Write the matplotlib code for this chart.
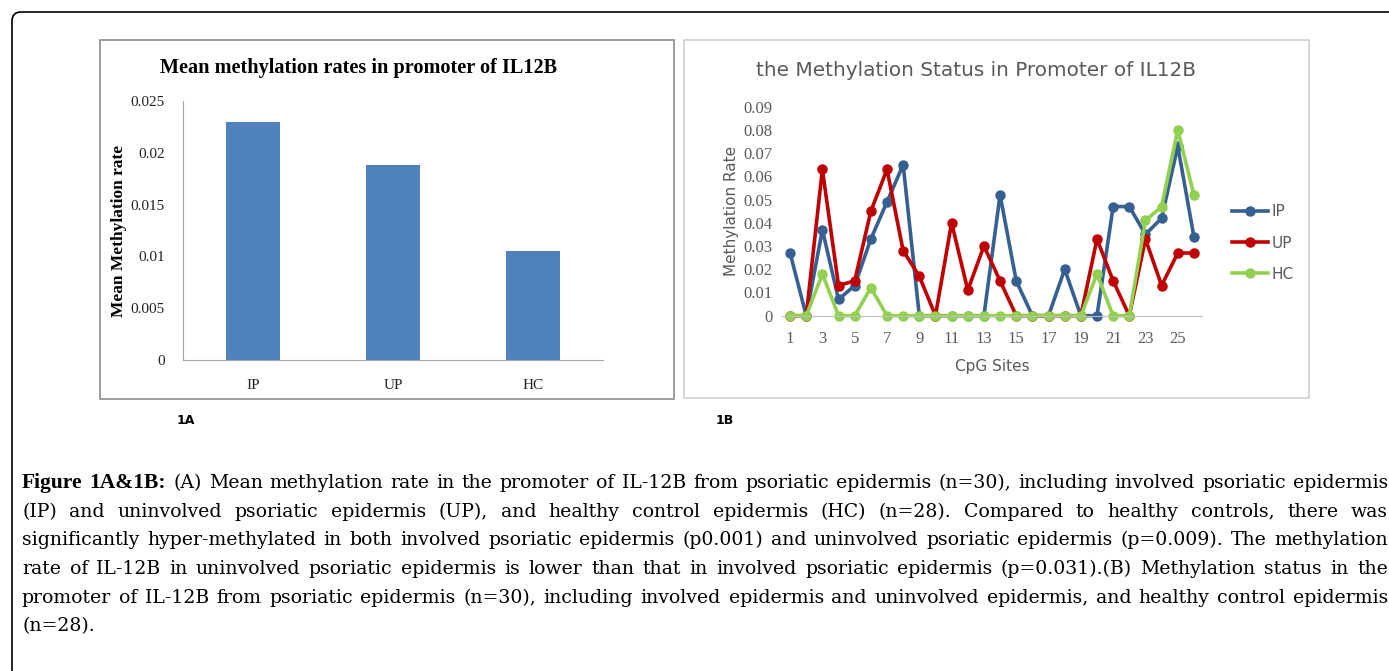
import matplotlib
matplotlib.use('Agg')
import matplotlib.pyplot as plt
from matplotlib.patches import Rectangle, FancyBboxPatch

W, H = 1389, 671

groups = ['IP', 'UP', 'HC']
mean_rates = [0.0230, 0.0188, 0.0105]

sites = list(range(1, 27))
ip_rates = [0.027, 0, 0.037, 0.007, 0.013, 0.033, 0.049, 0.065, 0, 0, 0, 0, 0,
            0.052, 0.015, 0, 0, 0.020, 0, 0, 0.047, 0.047, 0.035, 0.042, 0.073, 0.034]
up_rates = [0, 0, 0.063, 0.013, 0.015, 0.045, 0.063, 0.028, 0.017, 0, 0.040, 0.011, 0.030,
            0.015, 0, 0, 0, 0, 0, 0.033, 0.015, 0, 0.033, 0.013, 0.027, 0.027]
hc_rates = [0, 0, 0.018, 0, 0, 0.012, 0, 0, 0, 0, 0, 0, 0,
            0, 0, 0, 0, 0, 0, 0.018, 0, 0, 0.041, 0.047, 0.080, 0.052]

caption_lines = [
  "Figure 1A&1B: (A) Mean methylation rate in the promoter of IL-12B from psoriatic epidermis (n=30), including involved psoriatic epidermis",
  "(IP) and uninvolved psoriatic epidermis (UP), and healthy control epidermis (HC) (n=28). Compared to healthy controls, there was",
  "significantly hyper-methylated in both involved psoriatic epidermis (p0.001) and uninvolved psoriatic epidermis (p=0.009). The methylation",
  "rate of IL-12B in uninvolved psoriatic epidermis is lower than that in involved psoriatic epidermis (p=0.031).(B) Methylation status in the",
  "promoter of IL-12B from psoriatic epidermis (n=30), including involved epidermis and uninvolved epidermis, and healthy control epidermis",
  "(n=28).",
]

GRAY = '#595959'


def fx(x):
  return x / W


def fy(y):
  return 1 - y / H


def axes_box(left, top, right, bottom):
  return [fx(left), fy(bottom), (right - left) / W, (bottom - top) / H]


fig = plt.figure(figsize=(W / 100, H / 100), dpi=100)

# outer rounded frame
fig.patches.append(FancyBboxPatch((12, -30), 1420, H - 12 + 30, transform=None,
                                  boxstyle='round,pad=0,rounding_size=9',
                                  fill=False, edgecolor='black', linewidth=1.2))
# panel frames
fig.patches.append(Rectangle((fx(100), fy(399)), 574 / W, 359 / H, transform=fig.transFigure,
                             fill=False, edgecolor='#8c8c8c', linewidth=1.2))
fig.patches.append(Rectangle((fx(684), fy(398)), 625 / W, 358 / H, transform=fig.transFigure,
                             fill=False, edgecolor='#d0d0d0', linewidth=1.2))

# --- 1A bar chart ---
ax1 = fig.add_axes(axes_box(183, 101, 603, 360))
ax1.bar(range(len(groups)), mean_rates, width=0.39, color='#4f81bd')
ax1.set_xlim(-0.5, len(groups) - 0.5)
ax1.set_ylim(0, 0.025)
ax1.set_yticks([0, 0.005, 0.01, 0.015, 0.02, 0.025])
ax1.set_yticklabels(['0', '0.005', '0.01', '0.015', '0.02', '0.025'])
ax1.set_xticks(range(len(groups)))
ax1.set_xticklabels(groups)
ax1.tick_params(length=0, labelsize=11, pad=14, labelcolor='#222222')
ax1.tick_params(axis='y', pad=13)
for lab in ax1.get_xticklabels() + ax1.get_yticklabels():
  lab.set_family('Liberation Serif')
for s in ['top', 'right']:
  ax1.spines[s].set_visible(False)
for s in ['left', 'bottom']:
  ax1.spines[s].set_color('#a6a6a6')
ax1.set_ylabel('Mean Methylation rate', family='Liberation Serif', fontweight='bold',
               fontsize=12.5, labelpad=3)
fig.text(fx(359), fy(68), 'Mean methylation rates in promoter of IL12B', ha='center', va='center',
         family='Liberation Serif', fontweight='bold', fontsize=14.6)

# --- 1B line chart ---
ax2 = fig.add_axes(axes_box(782, 106.7, 1202, 315.7))
ax2.plot(sites, ip_rates, color='#366092', lw=2.6, marker='o', ms=6.5, label='IP')
ax2.plot(sites, up_rates, color='#c00000', lw=2.6, marker='o', ms=6.5, label='UP')
ax2.plot(sites, hc_rates, color='#92d050', lw=2.6, marker='o', ms=6.5, label='HC')
ax2.set_xlim(0.5, 26.5)
ax2.set_ylim(0, 0.09)
ax2.set_yticks([i / 100 for i in range(10)])
ax2.set_yticklabels(['0'] + ['0.0%d' % i for i in range(1, 10)])
ax2.set_xticks(sites[::2])
ax2.tick_params(length=0, labelsize=12, labelcolor=GRAY, pad=11)
ax2.tick_params(axis='y', pad=7)
for lab in ax2.get_xticklabels() + ax2.get_yticklabels():
  lab.set_family('Liberation Serif')
for s in ['top', 'right', 'left']:
  ax2.spines[s].set_visible(False)
ax2.spines['bottom'].set_color('#bfbfbf')
ax2.set_xlabel('CpG Sites', color=GRAY, fontsize=11, labelpad=9)
ax2.set_ylabel('Methylation Rate', color=GRAY, fontsize=11, labelpad=3)
for ln in ax2.lines:
  ln.set_clip_on(False)
fig.text(fx(976), fy(70), 'the Methylation Status in Promoter of IL12B', ha='center', va='center',
         color=GRAY, fontsize=14.4)
ax2.legend(loc='center left', bbox_to_anchor=(fx(1224), fy(243)), bbox_transform=fig.transFigure,
           frameon=False, fontsize=11, labelcolor=GRAY, handlelength=2.4, handletextpad=0.2,
           labelspacing=1.05, borderpad=0)

# panel labels
fig.text(fx(186), fy(421), '1A', ha='center', va='center', fontweight='bold', fontsize=9)
fig.text(fx(725), fy(421), '1B', ha='center', va='center', fontweight='bold', fontsize=9)

# --- justified caption ---
renderer = fig.canvas.get_renderer()
left, right = 22, 1388
base0, step = 488, 28.7
n_bold = 2
for i, line in enumerate(caption_lines):
  words = line.split(' ')
  texts = []
  for j, w in enumerate(words):
    bold = (i == 0 and j < n_bold)
    if bold:
      t = fig.text(0, fy(base0 + i * step), w, ha='left', va='baseline',
                   family='Liberation Serif', fontsize=15.5, fontweight='bold')
    else:
      t = fig.text(0, fy(base0 + i * step), w, ha='left', va='baseline',
                   family='DejaVu Serif', fontsize=13.6)
    texts.append(t)
  widths = [t.get_window_extent(renderer).width for t in texts]
  if i < len(caption_lines) - 1 and len(words) > 1:
    gap = max((right - left - sum(widths)) / (len(words) - 1), 2)
  else:
    gap = 5
  x = left
  for t, wd in zip(texts, widths):
    t.set_x(fx(x))
    x += wd + gap

fig.savefig('out.png', dpi=100)
